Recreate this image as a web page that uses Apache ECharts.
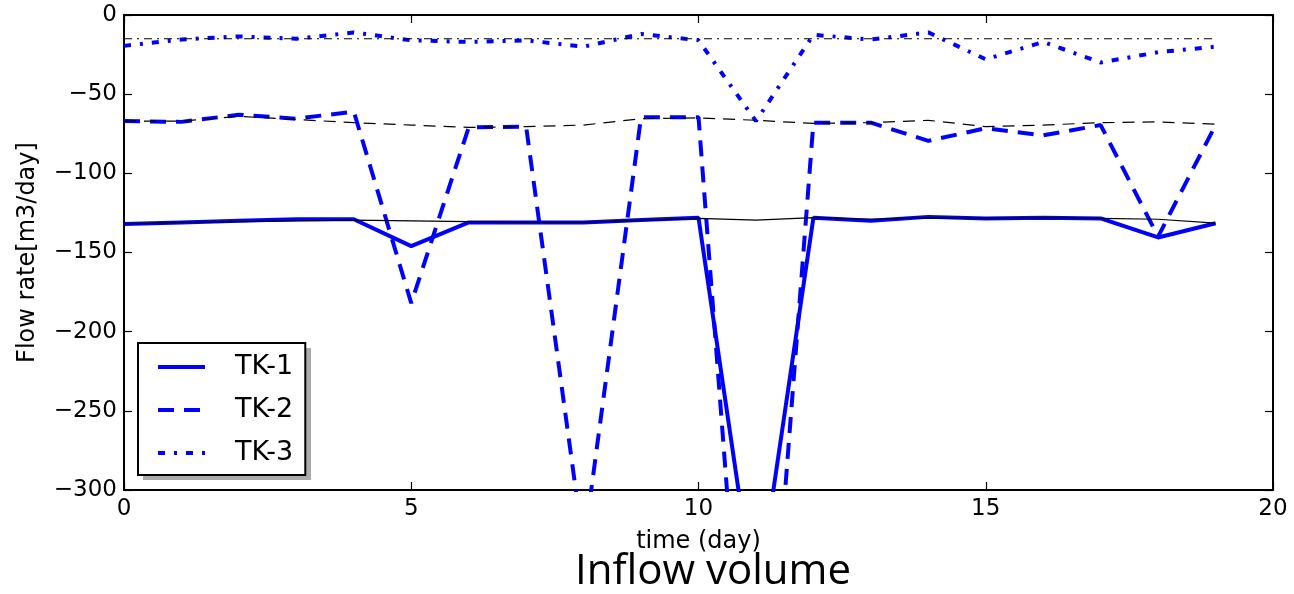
<!DOCTYPE html>
<html>
<head>
<meta charset="utf-8">
<script src="https://cdn.jsdelivr.net/npm/echarts@6/dist/echarts.min.js"></script>
<style>
html,body{margin:0;padding:0;background:#fff;}
#chart{width:1294px;height:594px;}
</style>
</head>
<body>
<div id="chart"></div>
<script>
const days = [0,1,2,3,4,5,6,7,8,9,10,11,12,13,14,15,16,17,18,19];
const tk1 = [-132,-131,-130,-129,-129,-146,-131,-131,-131,-129.5,-128,-375,-128,-130,-127.5,-128.5,-128,-128.5,-140.5,-131.5];
const tk2 = [-67,-67.5,-63,-65.5,-61,-182,-71,-70.5,-336,-64.5,-64.5,-540,-68,-68,-79.5,-71.5,-76,-69.5,-140,-69.5];
const tk3 = [-19.5,-15.5,-13.5,-15,-11,-16,-17,-16,-20,-12,-16,-67,-12.5,-15.5,-11,-28,-17,-30,-23.5,-20];
const ref1 = [-132,-131,-130.5,-130,-129.5,-130,-130.5,-131,-131,-129.5,-128.5,-129.5,-128,-129,-128,-128.5,-128,-128.5,-129,-131.5];
const ref2 = [-67,-67,-64,-66,-68,-69.5,-71,-70.5,-69.5,-65.5,-65,-66.5,-68.5,-68,-66.5,-70.5,-69.5,-68,-67.5,-69];
const ref3 = [-15,-15,-15,-15,-15,-15,-15,-15,-15,-15,-15,-15,-15,-15,-15,-15,-15,-15,-15,-15];
const seriesNames = ['TK-1','TK-2','TK-3'];
const xTitle = 'time (day)';
const yTitle = 'Flow rate[m3/day]';
const chartTitle = 'Inflow volume';

const pair = (ys) => days.map((d,i)=>[d, ys[i]]);
const font = 'DejaVu Sans';
const chart = echarts.init(document.getElementById('chart'), null, {renderer:'canvas'});

const axisLineStyle = {color:'#000', width:2};
const tickStyle = {show:true, inside:true, length:8, lineStyle:{color:'#000', width:1.2}};

chart.setOption({
  animation:false,
  backgroundColor:'#fff',
  title:{
    text: chartTitle, left: 570, top: 546,
    textStyle:{fontFamily:'Open Sans', fontSize:42, fontWeight:'normal', color:'#000'}
  },
  graphic:[{
    type:'rect', left:143, top:348, z:4, silent:true,
    shape:{width:168, height:132},
    style:{fill:'#ababab'}
  }],
  legend:{
    data: seriesNames, z:5,
    orient:'vertical', left:138, top:343,
    padding:[9,12,7,18],
    itemWidth:47, itemHeight:30, itemGap:13,
    backgroundColor:'#fff',
    borderColor:'#000', borderWidth:2, borderRadius:0,
    itemStyle:{color:'rgba(0,0,0,0)', borderColor:'rgba(0,0,0,0)', borderWidth:0},
    lineStyle:{width:4},
    textStyle:{fontFamily:font, fontSize:27, color:'#000', padding:[0,0,0,25], lineHeight:30}
  },
  grid:{left:124, right:21, top:15, bottom:104, containLabel:false},
  xAxis:[{
    type:'value', min:0, max:20, interval:5, position:'bottom',
    name: xTitle, nameLocation:'middle', nameGap:40,
    nameTextStyle:{fontFamily:font, fontSize:24, color:'#000'},
    axisLine:{show:true, onZero:false, lineStyle:axisLineStyle},
    axisTick: tickStyle,
    axisLabel:{fontFamily:font, fontSize:23, color:'#000', margin:8},
    splitLine:{show:false}
  },{
    type:'value', min:0, max:20, interval:5, position:'top',
    axisLine:{show:true, onZero:false, lineStyle:axisLineStyle},
    axisTick: tickStyle, axisLabel:{show:false}, splitLine:{show:false}
  }],
  yAxis:[{
    type:'value', min:-300, max:0, interval:50, position:'left',
    name: yTitle, nameLocation:'middle', nameGap:84,
    nameTextStyle:{fontFamily:font, fontSize:24, color:'#000'},
    axisLine:{show:true, onZero:false, lineStyle:axisLineStyle},
    axisTick: tickStyle,
    axisLabel:{fontFamily:font, fontSize:23, color:'#000', margin:7,
      formatter:(v)=>String(v).replace('-','\u2212')},
    splitLine:{show:false}
  },{
    type:'value', min:-300, max:0, interval:50, position:'right',
    axisLine:{show:true, onZero:false, lineStyle:axisLineStyle},
    axisTick: tickStyle, axisLabel:{show:false}, splitLine:{show:false}
  }],
  series:[
    {name:seriesNames[0], type:'line', data:pair(tk1), symbol:'none', clip:true, z:2,
      lineStyle:{color:'#0000ff', width:4, type:'solid'}, itemStyle:{color:'#0000ff'}},
    {name:seriesNames[1], type:'line', data:pair(tk2), symbol:'none', clip:true, z:2,
      lineStyle:{color:'#0000ff', width:4, type:[16,10]}, itemStyle:{color:'#0000ff'}},
    {name:seriesNames[2], type:'line', data:pair(tk3), symbol:'none', clip:true, z:2,
      lineStyle:{color:'#0000ff', width:4, type:[7,9,3,9]}, itemStyle:{color:'#0000ff'}},
    {name:'ref1', type:'line', data:pair(ref1), symbol:'none', clip:true, z:3,
      lineStyle:{color:'#000', width:1.2, type:'solid'}},
    {name:'ref2', type:'line', data:pair(ref2), symbol:'none', clip:true, z:3,
      lineStyle:{color:'#000', width:1.2, type:[12,8]}},
    {name:'ref3', type:'line', data:pair(ref3), symbol:'none', clip:true, z:3,
      lineStyle:{color:'#000', width:1.2, type:[8,5,2,5]}}
  ]
});
</script>
</body>
</html>
